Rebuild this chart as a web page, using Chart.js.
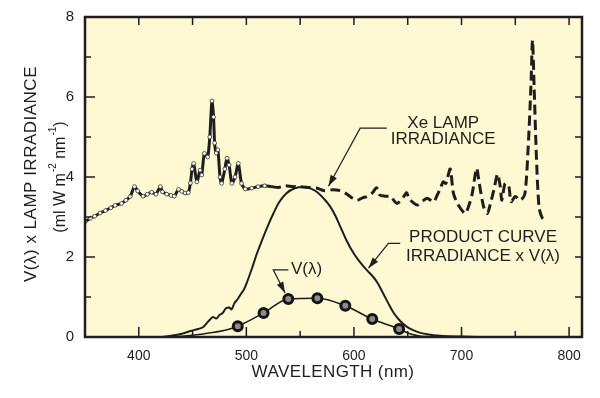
<!DOCTYPE html>
<html lang="en">
<head>
    <title>Xe lamp irradiance x V(lambda)</title>
    <meta charset="utf-8">
    <script src="https://cdn.jsdelivr.net/npm/chart.js"></script>
    <style>
        html, body { margin: 0; padding: 0; background: #ffffff; }
        #chart { display: block; }
    </style>
</head>
<body>
    <canvas id="chart" width="600" height="398"></canvas>

    <script>
        // Xe lamp irradiance (solid with markers below ~520 nm, dashed above)
        var lampWave = [
            350, 355, 359, 364, 369, 374, 378, 384, 388, 392, 396, 399, 404, 408, 412, 416, 420, 422, 426, 430,
            433, 437, 440, 443, 446, 448, 449.5, 451, 454, 457, 458.5, 461, 464, 466, 468, 469.5, 470.5, 472, 473.5, 475.5,
            477, 480, 482, 484, 486.5, 489.5, 492.5, 495.5, 499, 505, 511, 517, 523, 530, 536, 543, 550, 558, 566, 572,
            580, 587, 593, 598, 603, 608, 612, 617, 621, 624, 629, 634, 640, 646, 649, 651, 655, 659, 664, 668,
            674, 677, 681, 683, 685.5, 689.5, 692.5, 697, 703.5, 707, 710, 714, 716.5, 720.5, 724, 727, 730, 733.5, 736, 737.5,
            740.5, 744, 746, 750, 755, 759, 762, 764.5, 766, 767.5, 769.5, 772, 775, 779.5
        ];
        var lampValue = [
            2.88, 2.97, 3.02, 3.10, 3.16, 3.23, 3.29, 3.34, 3.42, 3.51, 3.76, 3.65, 3.52, 3.57, 3.62, 3.57, 3.76, 3.63, 3.57, 3.54,
            3.52, 3.69, 3.64, 3.60, 3.61, 3.85, 4.20, 4.34, 3.88, 4.17, 4.05, 4.59, 4.50, 5.00, 5.90, 5.50, 4.85, 4.60, 4.68, 4.00,
            3.84, 4.20, 4.47, 4.30, 3.84, 4.00, 4.34, 3.84, 3.70, 3.72, 3.76, 3.78, 3.76, 3.74, 3.78, 3.76, 3.76, 3.74, 3.72, 3.66,
            3.68, 3.66, 3.58, 3.48, 3.42, 3.48, 3.51, 3.60, 3.73, 3.55, 3.52, 3.51, 3.34, 3.50, 3.61, 3.47, 3.36, 3.30, 3.40, 3.47,
            3.38, 3.52, 3.76, 3.88, 3.84, 4.20, 3.59, 3.30, 3.09, 3.30, 3.59, 4.22, 3.84, 3.26, 3.09, 3.35, 3.67, 4.07, 3.76, 3.42,
            3.84, 3.76, 3.38, 3.51, 3.42, 3.59, 4.76, 6.26, 7.42, 6.26, 4.59, 3.26, 2.98, 2.90
        ];

        // product curve: irradiance x V(lambda)
        var productWave = [
            420, 430, 440, 448, 455, 460, 463, 466, 469, 472, 475, 478, 481, 484, 486, 489, 492, 495, 498, 501,
            505, 510, 515, 520, 525, 530, 537, 545, 553, 560, 566, 572, 578, 583, 587, 593, 600, 606, 612, 618,
            622, 627, 632, 637, 643, 649, 655, 661, 668, 680, 700, 720, 780
        ];
        var productValue = [
            0.00, 0.03, 0.08, 0.15, 0.20, 0.25, 0.34, 0.43, 0.50, 0.46, 0.55, 0.60, 0.72, 0.74, 0.69, 0.85, 0.95, 1.08, 1.20, 1.40,
            1.70, 2.10, 2.45, 2.78, 3.08, 3.35, 3.59, 3.72, 3.75, 3.71, 3.62, 3.46, 3.26, 3.02, 2.78, 2.42, 2.08, 1.86, 1.67, 1.50,
            1.35, 1.10, 0.84, 0.60, 0.40, 0.26, 0.17, 0.11, 0.07, 0.03, 0.01, 0.00, 0.00
        ];

        // V(lambda) line and its circle markers
        var vWave = [430, 445, 458, 465, 475, 483, 492, 516, 539, 566, 592, 617, 642, 652, 662, 675];
        var vValue = [0.00, 0.03, 0.07, 0.10, 0.14, 0.19, 0.27, 0.60, 0.95, 0.97, 0.78, 0.45, 0.20, 0.08, 0.02, 0.00];
        var vMarkWave = [492, 516, 539, 566, 592, 617, 642];
        var vMarkValue = [0.27, 0.60, 0.95, 0.97, 0.78, 0.45, 0.20];

        // axis ticks
        var xTicks = [350, 400, 450, 500, 550, 600, 650, 700, 750, 800];
        var xLabelled = [400, 500, 600, 700, 800];
        var yTicks = [0, 1, 2, 3, 4, 5, 6, 7, 8];
        var yLabelled = [0, 2, 4, 6, 8];

        var FONT = "'Liberation Sans', Arial, Helvetica, sans-serif";
        var INK = '#1e1e1e';

        function pairs(xs, ys) {
            return xs.map(function (x, i) { return { x: x, y: ys[i] }; });
        }

        // draws a polyline ending in a filled arrow head
        function leader(ctx, pts) {
            ctx.beginPath();
            ctx.moveTo(pts[0][0], pts[0][1]);
            for (var i = 1; i < pts.length; i++) ctx.lineTo(pts[i][0], pts[i][1]);
            ctx.stroke();
            var a = pts[pts.length - 2], b = pts[pts.length - 1];
            var ang = Math.atan2(b[1] - a[1], b[0] - a[0]);
            ctx.beginPath();
            ctx.moveTo(b[0], b[1]);
            ctx.lineTo(b[0] - 11 * Math.cos(ang) + 3.5 * Math.sin(ang), b[1] - 11 * Math.sin(ang) - 3.5 * Math.cos(ang));
            ctx.lineTo(b[0] - 11 * Math.cos(ang) - 3.5 * Math.sin(ang), b[1] - 11 * Math.sin(ang) + 3.5 * Math.cos(ang));
            ctx.closePath();
            ctx.fill();
        }

        var decorations = {
            id: 'decorations',
            beforeDraw: function (chart) {
                var ctx = chart.ctx, a = chart.chartArea;
                ctx.save();
                ctx.fillStyle = '#fef9d2';
                ctx.fillRect(a.left, a.top, a.right - a.left, a.bottom - a.top);
                ctx.restore();
            },
            afterDatasetsDraw: function (chart) {
                var ctx = chart.ctx, a = chart.chartArea;
                var xs = chart.scales.x, ys = chart.scales.y;
                function px(v) { return xs.getPixelForValue(v); }
                function py(v) { return ys.getPixelForValue(v); }

                ctx.save();
                ctx.strokeStyle = INK;
                ctx.fillStyle = INK;

                // inward ticks on all four sides
                ctx.lineWidth = 1.5;
                ctx.beginPath();
                xTicks.forEach(function (v) {
                    if (v === 350) return;
                    var p = px(v);
                    var len = xLabelled.indexOf(v) >= 0 ? 10 : 6;
                    ctx.moveTo(p, a.bottom); ctx.lineTo(p, a.bottom - len);
                    ctx.moveTo(p, a.top); ctx.lineTo(p, a.top + 8);
                });
                yTicks.forEach(function (v) {
                    if (v === 0 || v === 8) return;
                    var p = py(v);
                    var len = yLabelled.indexOf(v) >= 0 ? 10 : 6;
                    ctx.moveTo(a.left, p); ctx.lineTo(a.left + len, p);
                    ctx.moveTo(a.right, p); ctx.lineTo(a.right - 7, p);
                });
                ctx.stroke();

                // frame
                ctx.lineWidth = 2.5;
                ctx.strokeRect(a.left, a.top, a.right - a.left, a.bottom - a.top);

                // annotations
                ctx.font = '17px ' + FONT;
                ctx.textAlign = 'center';
                ctx.textBaseline = 'middle';
                ctx.fillText('Xe LAMP', px(683), py(5.35));
                ctx.fillText('IRRADIANCE', px(683), py(4.93));
                ctx.fillText('PRODUCT CURVE', px(720), py(2.48));
                ctx.fillText('IRRADIANCE x V(\u03bb)', px(720), py(2.02));
                ctx.fillText('V(\u03bb)', px(556), py(1.68));

                ctx.lineWidth = 1.2;
                leader(ctx, [[px(630.6), py(5.22)], [px(605.8), py(5.22)], [px(576.3), py(3.77)]]);
                leader(ctx, [[px(643), py(2.34)], [px(632), py(2.34)], [px(613.5), py(1.72)]]);
                leader(ctx, [[px(539), py(1.68)], [px(525), py(1.68)], [px(536), py(1.1)]]);

                // axis titles
                ctx.letterSpacing = '0.4px';
                ctx.fillText('WAVELENGTH (nm)', 333, 372);

                ctx.translate(31, 174);
                ctx.rotate(-Math.PI / 2);
                ctx.letterSpacing = '0.5px';
                ctx.fillText('V(\u03bb) x LAMP IRRADIANCE', 0, 0);
                ctx.setTransform(1, 0, 0, 1, 0, 0);
                ctx.letterSpacing = '0px';

                var parts = [['(ml W m', false], ['-2', true], [' nm', false], ['-1', true], [')', false]];
                var total = 0;
                parts.forEach(function (p) {
                    ctx.font = (p[1] ? '10px ' : '16px ') + FONT;
                    total += ctx.measureText(p[0]).width + (p[1] ? 1 : 0);
                });
                ctx.translate(61, 177);
                ctx.rotate(-Math.PI / 2);
                ctx.textAlign = 'left';
                var cx = -total / 2;
                parts.forEach(function (p) {
                    ctx.font = (p[1] ? '10px ' : '16px ') + FONT;
                    ctx.fillText(p[0], cx + (p[1] ? 1 : 0), p[1] ? -8 : 0);
                    cx += ctx.measureText(p[0]).width + (p[1] ? 1 : 0);
                });
                ctx.restore();
            }
        };

        var chart = new Chart(document.getElementById('chart').getContext('2d'), {
            type: 'line',
            data: {
                datasets: [
                    {
                        label: 'V(lambda) markers',
                        data: pairs(vMarkWave, vMarkValue),
                        showLine: false,
                        pointRadius: 4.5,
                        pointBorderWidth: 3,
                        pointBorderColor: '#141414',
                        pointBackgroundColor: '#8c8c8c',
                        order: 0
                    },
                    {
                        label: 'V(lambda)',
                        data: pairs(vWave, vValue),
                        borderColor: INK,
                        borderWidth: 1.6,
                        pointRadius: 0,
                        cubicInterpolationMode: 'monotone',
                        order: 1
                    },
                    {
                        label: 'Product curve',
                        data: pairs(productWave, productValue),
                        borderColor: INK,
                        borderWidth: 2,
                        pointRadius: 0,
                        cubicInterpolationMode: 'monotone',
                        order: 2
                    },
                    {
                        label: 'Xe lamp irradiance',
                        data: pairs(lampWave, lampValue),
                        borderColor: INK,
                        borderWidth: 3,
                        tension: 0.25,
                        pointRadius: function (ctx) { return ctx.raw && ctx.raw.x <= 519 ? 1.9 : 0; },
                        pointBorderWidth: 0.8,
                        pointBorderColor: '#333333',
                        pointBackgroundColor: '#ffffff',
                        segment: {
                            borderDash: function (ctx) { return ctx.p0.parsed.x >= 519 ? [10, 5] : undefined; }
                        },
                        order: 3
                    }
                ]
            },
            options: {
                responsive: false,
                animation: false,
                devicePixelRatio: 1,
                layout: { padding: { left: 0, top: 17, right: 18, bottom: 0 } },
                plugins: {
                    legend: { display: false },
                    tooltip: { enabled: false }
                },
                scales: {
                    x: {
                        type: 'linear',
                        min: 350,
                        max: 812,
                        afterFit: function (scale) { scale.height = 61; },
                        afterBuildTicks: function (scale) {
                            scale.ticks = xTicks.map(function (v) { return { value: v }; });
                        },
                        grid: { display: false },
                        border: { display: false },
                        ticks: {
                            padding: 3,
                            color: INK,
                            font: { family: FONT, size: 14 },
                            maxRotation: 0,
                            autoSkip: false,
                            callback: function (v) { return xLabelled.indexOf(v) >= 0 ? String(v) : ''; }
                        }
                    },
                    y: {
                        min: 0,
                        max: 8,
                        afterFit: function (scale) { scale.width = 85; },
                        afterBuildTicks: function (scale) {
                            scale.ticks = yTicks.map(function (v) { return { value: v }; });
                        },
                        grid: { display: false },
                        border: { display: false },
                        ticks: {
                            padding: 3,
                            color: INK,
                            font: { family: FONT, size: 15 },
                            autoSkip: false,
                            callback: function (v) { return yLabelled.indexOf(v) >= 0 ? String(v) : ''; }
                        }
                    }
                }
            },
            plugins: [decorations]
        });
    </script>
</body>
</html>
